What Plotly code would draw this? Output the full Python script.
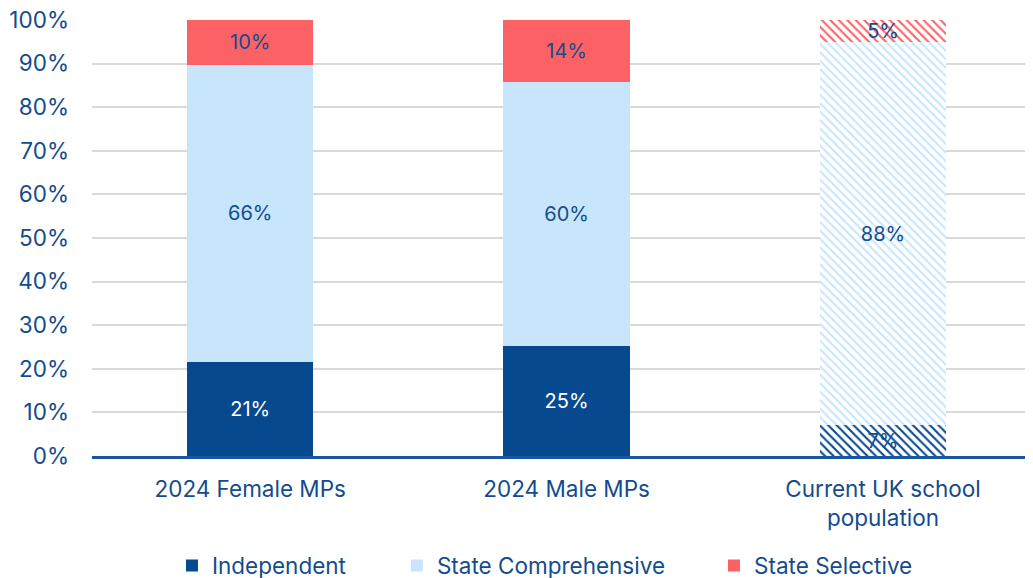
import plotly.graph_objects as go

categories = ['2024 Female MPs', '2024 Male MPs', 'Current UK school<br>population']
independent = [21, 25, 7]
comprehensive = [66, 60, 88]
selective = [10, 14, 5]
hatch = ['', '', '\\']

navy = '#07498F'
light = '#C7E6FC'
red = '#FC6265'
txt = '#134C8E'
font = 'Inter'

series = [
    ('Independent', independent, navy, ['white', 'white', txt], 'legend', 0.085),
    ('State Comprehensive', comprehensive, light, [txt, txt, txt], 'legend2', 0.324),
    ('State Selective', selective, red, [txt, txt, txt], 'legend3', 0.661),
]

fig = go.Figure()
legends = {}
for name, vals, col, tcol, leg, lx in series:
    fig.add_trace(go.Bar(
        x=categories, y=vals, name=name, legend=leg,
        marker=dict(color=col, line=dict(width=0),
                    pattern=dict(shape=hatch, fillmode='replace', bgcolor='white',
                                 fgcolor=col, size=6, solidity=0.35)),
        text=[f'{v}%' for v in vals], textposition='inside',
        insidetextanchor='middle', textfont=dict(color=tcol, size=20, family=font),
        width=0.4,
    ))
    legends[leg] = dict(orientation='h', x=lx, xanchor='left', y=-0.252, yanchor='middle',
                        font=dict(size=22.5, color=txt), bgcolor='rgba(0,0,0,0)')

# page body adds an 8px offset, so the figure is sized a bit smaller
fig.update_layout(
    barmode='stack', barnorm='percent',
    width=1025, height=570,
    margin=dict(l=84, r=0, t=12, b=122, autoexpand=False),
    plot_bgcolor='white', paper_bgcolor='white',
    font=dict(family=font, size=22.5, color=txt),
    uniformtext=dict(minsize=20, mode='show'),
    showlegend=True,
    **legends,
    xaxis=dict(range=[-0.5, 2.474], showline=True, linecolor='#1A56A0', linewidth=2.5,
               tickfont=dict(size=22.5, color=txt), ticks='', ticklabelstandoff=11,
               automargin=False),
    yaxis=dict(range=[0, 100], dtick=10, ticksuffix='%', showgrid=True, gridcolor='#D9D9D9',
               gridwidth=1.5, zeroline=False, tickfont=dict(size=22.5, color=txt),
               ticklabelstandoff=22, automargin=False, ticklabeloverflow='allow'),
)

fig.write_html('out.html')
